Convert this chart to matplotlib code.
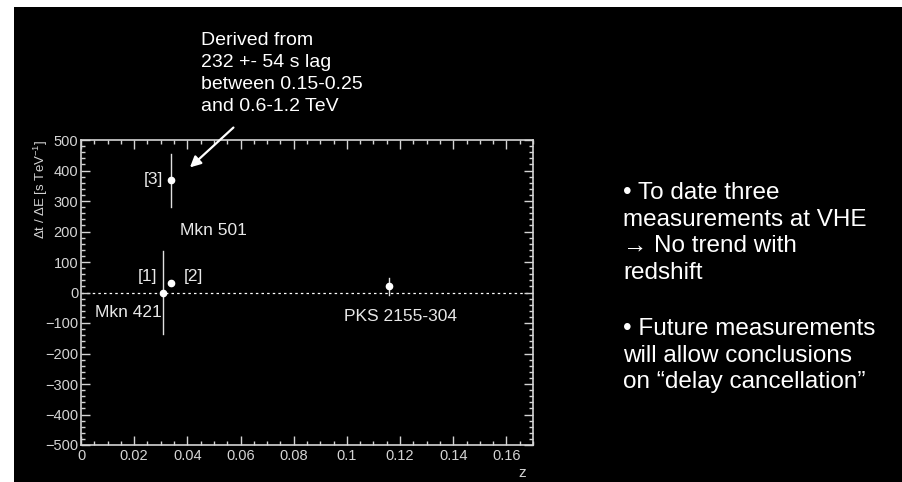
import matplotlib
matplotlib.use("Agg")
import matplotlib.pyplot as plt
from matplotlib.patches import Rectangle
from matplotlib.ticker import MultipleLocator, FuncFormatter

plt.rcParams['font.family'] = ['Liberation Sans', 'DejaVu Sans']
plt.rcParams['mathtext.fontset'] = 'custom'
plt.rcParams['mathtext.rm'] = 'Liberation Sans'
plt.rcParams['mathtext.it'] = 'Liberation Sans:italic'

# Measured time lag per energy versus redshift
sources = ["Mkn 421 [1]", "Mkn 501 [2]", "Mkn 501 [3]", "PKS 2155-304"]
redshift = [0.031, 0.034, 0.034, 0.116]
lag_per_energy = [0, 30, 368, 20]
lag_error = [135, 0, 87, 28]

x_ticks = [0, 0.02, 0.04, 0.06, 0.08, 0.1, 0.12, 0.14, 0.16]
y_ticks = [-500, -400, -300, -200, -100, 0, 100, 200, 300, 400, 500]

W, H = 902, 482
fig = plt.figure(figsize=(W / 100, H / 100), dpi=100, facecolor='white')
fig.patches.append(Rectangle((14 / W, 0), 1 - 14 / W, 1 - 7 / H,
                             transform=fig.transFigure, facecolor='black',
                             edgecolor='none', zorder=-10))

ax = fig.add_axes([81 / W, 37 / H, 452 / W, 305 / H])
ax.set_facecolor('black')
ax.set_xlim(0, 0.17)
ax.set_ylim(-500, 500)

grey = '#d4d4d4'
for s in ax.spines.values():
    s.set_color(grey)
    s.set_linewidth(1.2)

ax.set_xticks(x_ticks)
ax.set_yticks(y_ticks)
ax.xaxis.set_minor_locator(MultipleLocator(0.005))
ax.yaxis.set_minor_locator(MultipleLocator(20))
ax.xaxis.set_major_formatter(FuncFormatter(lambda v, p: f"{v:g}"))
ax.tick_params(which='both', direction='in', top=True, right=True,
               colors=grey, labelcolor=grey)
ax.tick_params(which='major', length=6.5, width=1.0, labelsize=10.5)
ax.tick_params(which='minor', length=3.2, width=1.0)
ax.tick_params(axis='y', pad=2)
ax.tick_params(axis='x', pad=3)

ax.axhline(0, color='white', lw=0.9, ls=(0, (2, 2.5)), zorder=1)

# error bars and points
for x, y, e in zip(redshift, lag_per_energy, lag_error):
    if e > 0:
        ax.plot([x, x], [y - e, y + e], color='#e0e0e0', lw=1.0, zorder=2)
ax.plot(redshift, lag_per_energy, 'o', color='white', ms=4.5, zorder=3)

lab = dict(color='#e8e8e8', fontsize=12.5)
ax.text(0.0309, 369, "[3]", ha='right', va='center', **lab)
ax.text(0.0374, 202, "Mkn 501", ha='left', va='center', **lab)
ax.text(0.0287, 51, "[1]", ha='right', va='center', **lab)
ax.text(0.0385, 51, "[2]", ha='left', va='center', **lab)
ax.text(0.0053, -67, "Mkn 421", ha='left', va='center', **lab)
ax.text(0.0989, -80, "PKS 2155-304", ha='left', va='center', **lab)

ax.set_ylabel(r"$\Delta$t / $\Delta$E [s TeV$^{-1}$]", color=grey,
              fontsize=9.5, loc='top')
ax.yaxis.set_label_coords(-0.069, 1.0)
ax.set_xlabel("z", color=grey, fontsize=11, loc='right')
ax.xaxis.set_label_coords(0.985, -0.068)

ax.annotate("", xy=(0.0402, 404), xytext=(0.0581, 547),
            arrowprops=dict(arrowstyle='-|>', color='white', lw=1.6,
                            mutation_scale=16),
            annotation_clip=False)

fig.text(201 / W, 1 - 32 / H,
         "Derived from\n232 +- 54 s lag\nbetween 0.15-0.25\nand 0.6-1.2 TeV",
         color='white', fontsize=14, ha='left', va='top', linespacing=1.38)

fig.text(623 / W, 1 - 182 / H,
         "\u2022 To date three\nmeasurements at VHE\n\u2192 No trend with\nredshift",
         color='white', fontsize=17.5, ha='left', va='top', linespacing=1.27)
fig.text(623 / W, 1 - 318 / H,
         "\u2022 Future measurements\nwill allow conclusions\non \u201cdelay cancellation\u201d",
         color='white', fontsize=17.5, ha='left', va='top', linespacing=1.27)

fig.savefig("out.png", dpi=100, facecolor=fig.get_facecolor())
